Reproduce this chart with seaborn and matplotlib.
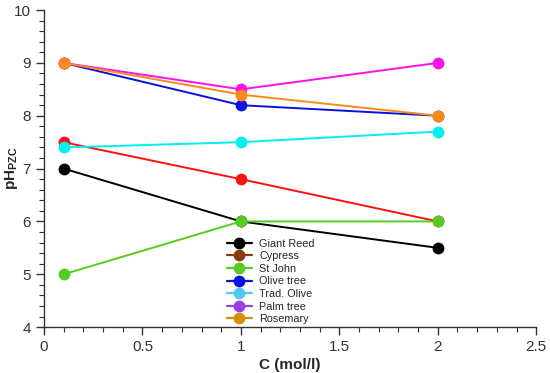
import matplotlib
matplotlib.use("Agg")
import matplotlib.pyplot as plt
from matplotlib.lines import Line2D
from matplotlib.ticker import MultipleLocator
import seaborn as sns
import pandas as pd

conc = [0.1, 1, 2]
series_names = ["Giant Reed", "Cypress", "St John", "Olive tree", "Trad. Olive", "Palm tree", "Rosemary"]
giant_reed = [7.0, 6.0, 5.5]
cypress = [7.5, 6.8, 6.0]
st_john = [5.0, 6.0, 6.0]
olive_tree = [9.0, 8.2, 8.0]
trad_olive = [7.4, 7.5, 7.7]
palm_tree = [9.0, 8.5, 9.0]
rosemary = [9.0, 8.4, 8.0]
values = [giant_reed, cypress, st_john, olive_tree, trad_olive, palm_tree, rosemary]

line_colors = ["#000000", "#ff1010", "#55cc22", "#0a10e0", "#00f0f0", "#ff10e8", "#ff8a1a"]
legend_colors = ["#000000", "#8b3a10", "#55cc22", "#0a10e0", "#55c8f0", "#9a40e6", "#d4900a"]

rows = []
for name, vals in zip(series_names, values):
    for x, y in zip(conc, vals):
        rows.append({"C": x, "pH": y, "Sample": name})
df = pd.DataFrame(rows)

sns.set_style("ticks")
plt.rcParams['font.family'] = ['Liberation Sans', 'DejaVu Sans']
plt.rcParams['mathtext.fontset'] = 'custom'
plt.rcParams['mathtext.bf'] = 'Liberation Sans:bold'
plt.rcParams['mathtext.rm'] = 'Liberation Sans'

fig = plt.figure(figsize=(5.5, 3.73), dpi=100)
ax = fig.add_axes([0.08, 0.123, 0.895, 0.85])

sns.lineplot(data=df, x="C", y="pH", hue="Sample", hue_order=series_names,
             palette=dict(zip(series_names, line_colors)), marker="o",
             markersize=8.5, markeredgewidth=0, linewidth=1.4, ax=ax, legend=False)

ax.set_xlim(0, 2.5)
ax.set_ylim(4, 10)
ax.xaxis.set_major_locator(MultipleLocator(0.5))
ax.xaxis.set_minor_locator(MultipleLocator(0.1))
ax.yaxis.set_major_locator(MultipleLocator(1))
ax.yaxis.set_minor_locator(MultipleLocator(0.2))
ax.set_xticks([0, 0.5, 1, 1.5, 2, 2.5])
ax.set_xticklabels(["0", "0.5", "1", "1.5", "2", "2.5"])
ax.tick_params(axis="both", which="major", direction="out", length=6, width=1, labelsize=11, colors="#333333", labelcolor="#333333")
ax.tick_params(axis="both", which="minor", direction="out", length=3.5, width=0.8, colors="#333333")
for s in ["top", "right"]:
    ax.spines[s].set_visible(False)
for s in ["left", "bottom"]:
    ax.spines[s].set_color("#333333")
    ax.spines[s].set_linewidth(1)

ax.set_xlabel("C (mol/l)", fontsize=11, fontweight="bold", labelpad=3)
ax.set_ylabel(r"$\mathbf{pH_{PZC}}$", fontsize=11)
ax.yaxis.set_label_coords(-0.048, 0.5)

handles = [Line2D([0], [0], color=c, marker="o", markersize=8.5, markeredgewidth=0, linewidth=1.6)
           for c in legend_colors]
ax.legend(handles, series_names, loc="upper left", bbox_to_anchor=(0.36, 0.296), frameon=False,
          fontsize=7.8, handlelength=2.3, handletextpad=0.7, labelspacing=0.24, borderpad=0)

fig.savefig("out.png", dpi=100)
